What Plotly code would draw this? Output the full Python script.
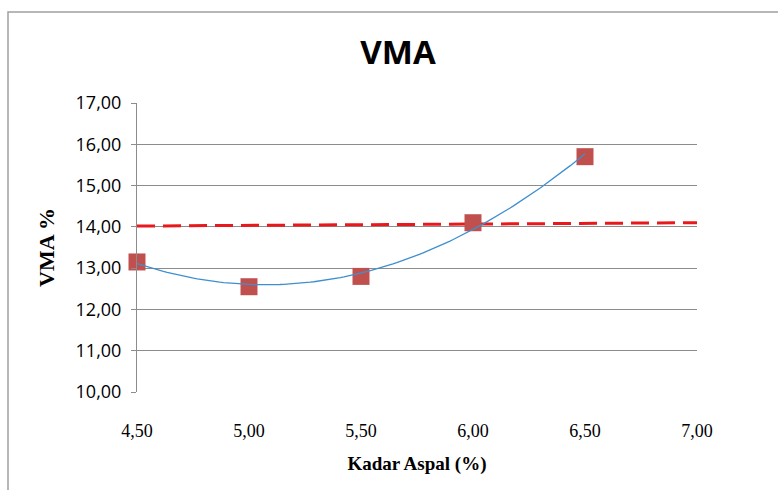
import numpy as np
import plotly.graph_objects as go

# Data
kadar_aspal = [4.5, 5.0, 5.5, 6.0, 6.5]
vma_values = [13.15, 12.55, 12.80, 14.10, 15.70]

# Specification limit line (red dashed)
limit_x = [4.5, 7.0]
limit_y = [14.02, 14.10]

x_ticks = [4.5, 5.0, 5.5, 6.0, 6.5, 7.0]
x_tick_labels = ["4,50", "5,00", "5,50", "6,00", "6,50", "7,00"]
y_ticks = [10, 11, 12, 13, 14, 15, 16, 17]
y_tick_labels = ["10,00", "11,00", "12,00", "13,00", "14,00", "15,00", "16,00", "17,00"]

# Polynomial (order 2) trendline, as in the original spreadsheet chart
coef = np.polyfit(kadar_aspal, vma_values, 2)
trend_x = np.linspace(min(kadar_aspal), max(kadar_aspal), 120)
trend_y = np.polyval(coef, trend_x)

fig = go.Figure()

fig.add_trace(go.Scatter(
    x=limit_x, y=limit_y, mode="lines",
    line=dict(color="#E8191C", width=3, dash="18px,8px"),
    hoverinfo="skip", showlegend=False, cliponaxis=False,
))

fig.add_trace(go.Scatter(
    x=kadar_aspal, y=vma_values, mode="markers",
    marker=dict(symbol="square", size=17, color="#C0504D"),
    showlegend=False, cliponaxis=False,
))

fig.add_trace(go.Scatter(
    x=trend_x, y=trend_y, mode="lines",
    line=dict(color="#3F8FD0", width=1.3),
    hoverinfo="skip", showlegend=False, cliponaxis=False,
))

L, R, T, B = 137, 81, 103, 98
W, H = 778, 490
pw, ph = W - L - R, H - T - B

def px_x(p):
    return (p - L) / pw

def px_y(p):
    return (H - B - p) / ph

fig.update_layout(
    width=W, height=H,
    margin=dict(l=L, r=R, t=T, b=B),
    paper_bgcolor="white", plot_bgcolor="white",
    title=dict(
        text="<b>VMA</b>", x=398 / W, xref="container", xanchor="center",
        y=1 - 52 / H, yref="container", yanchor="middle",
        font=dict(family="Open Sans, Calibri, Arial", size=33, color="#000000"),
    ),
    xaxis=dict(
        range=[4.5, 7.0], tickvals=x_ticks, ticktext=x_tick_labels,
        showgrid=False, zeroline=False, showline=False,
        ticks="", ticklabelstandoff=26,
        tickfont=dict(family="Liberation Serif, Times New Roman, serif", size=18, color="#000000"),
        title=dict(text="<b>Kadar Aspal (%)</b>", standoff=16,
                   font=dict(family="Liberation Serif, Times New Roman, serif", size=19, color="#000000")),
        fixedrange=True,
    ),
    yaxis=dict(
        range=[10, 17], tickvals=y_ticks, ticktext=y_tick_labels,
        showgrid=True, gridcolor="#8C8C8C", gridwidth=1,
        zeroline=False, showline=True, linecolor="#8C8C8C", linewidth=1,
        ticks="outside", ticklen=5, tickcolor="#8C8C8C", ticklabelstandoff=6,
        tickfont=dict(family="Open Sans, Calibri, Arial", size=18, color="#000000"),
        title=dict(text="<b>VMA %</b>", standoff=14,
                   font=dict(family="Liberation Serif, Times New Roman, serif", size=22, color="#000000")),
        fixedrange=True,
    ),
    shapes=[dict(
        type="rect", xref="paper", yref="paper",
        x0=px_x(8), x1=px_x(785), y0=px_y(495), y1=px_y(12),
        line=dict(color="#A0A0A0", width=1.5), fillcolor="rgba(0,0,0,0)", layer="below",
    )],
)

fig.write_html("out.html")
